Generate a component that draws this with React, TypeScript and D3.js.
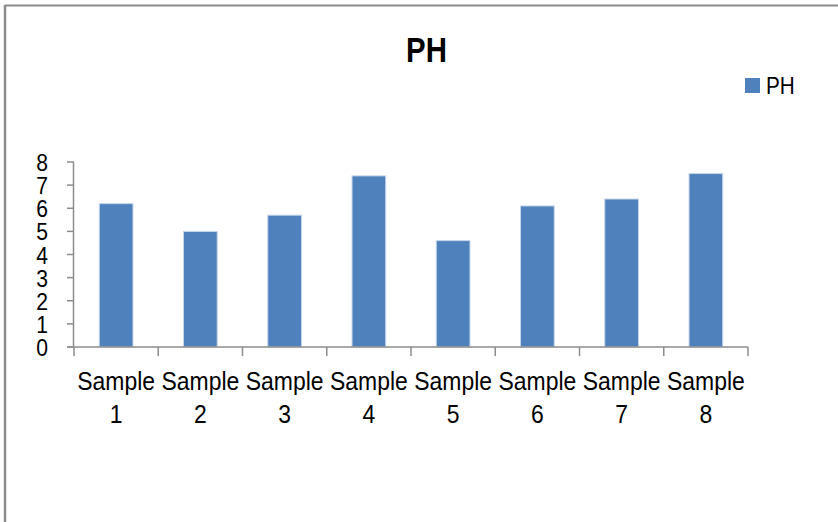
import React from "react";
import * as d3 from "d3";

const categories = ["Sample 1", "Sample 2", "Sample 3", "Sample 4", "Sample 5", "Sample 6", "Sample 7", "Sample 8"];
const phValues = [6.2, 5.0, 5.7, 7.4, 4.6, 6.1, 6.4, 7.5];
const yTicks = [0, 1, 2, 3, 4, 5, 6, 7, 8];
const seriesName = "PH";
const chartTitle = "PH";

const W = 838;
const H = 522;
const FONT = "'Liberation Sans', Arial, sans-serif";

type STProps = {
  x: number;
  y: number;
  sx: number;
  size: number;
  anchor?: "start" | "middle" | "end";
  bold?: boolean;
  children: React.ReactNode;
};

function SText({ x, y, sx, size, anchor = "start", bold = false, children }: STProps) {
  return (
    <text
      transform={`translate(${x},${y}) scale(${sx},1)`}
      textAnchor={anchor}
      fontFamily={FONT}
      fontSize={size}
      fontWeight={bold ? "bold" : "normal"}
      fill="#000"
    >
      {children}
    </text>
  );
}

export default function App() {
  const left = 74;
  const right = 748;
  const top = 162;
  const bottom = 347;

  const x = d3.scaleBand<string>().domain(categories).range([left, right]).paddingInner(0.6).paddingOuter(0.3);
  const xb = d3.scaleBand<string>().domain(categories).range([left, right]).padding(0);
  const y = d3.scaleLinear().domain([0, 8]).range([bottom, top]);

  const boundaries = d3.range(categories.length + 1).map((i) => left + i * xb.step());

  return (
    <svg width={W} height={H} style={{ position: "absolute", left: 0, top: 0, background: "#fff" }}>
      <rect x={0} y={0} width={W} height={H} fill="#fff" />
      {/* outer frame (top & left visible) */}
      <line x1={5} y1={5.5} x2={W} y2={5.5} stroke="#8c8c8c" strokeWidth={2} />
      <line x1={5} y1={5} x2={5} y2={H} stroke="#8c8c8c" strokeWidth={2.5} />

      <SText x={426.5} y={62} sx={0.84} size={35} anchor="middle" bold>
        {chartTitle}
      </SText>

      {/* legend */}
      <rect x={745} y={78} width={15} height={15} fill="#4F81BD" />
      <SText x={766} y={94} sx={0.9} size={23}>
        {seriesName}
      </SText>

      {/* bars */}
      {categories.map((c, i) => (
        <rect
          key={c}
          x={x(c)}
          y={y(phValues[i])}
          width={x.bandwidth()}
          height={y(0) - y(phValues[i])}
          fill="#4F81BD"
          stroke="#c6d6ea"
          strokeWidth={1}
        />
      ))}

      {/* y axis */}
      <line x1={left - 0.5} y1={y(8)} x2={left - 0.5} y2={bottom} stroke="#8c8c8c" strokeWidth={1.5} />
      {yTicks.map((t) => (
        <g key={t}>
          <line x1={left - 7} x2={left} y1={y(t)} y2={y(t)} stroke="#8c8c8c" strokeWidth={1.5} />
          <SText x={48} y={y(t) + 9} sx={0.88} size={24} anchor="end">
            {t}
          </SText>
        </g>
      ))}

      {/* x axis */}
      <line x1={left - 7} x2={right} y1={bottom} y2={bottom} stroke="#8c8c8c" strokeWidth={1.5} />
      {boundaries.map((bx, i) => (
        <line key={i} x1={bx} x2={bx} y1={bottom} y2={bottom + 9} stroke="#8c8c8c" strokeWidth={1.5} />
      ))}
      {categories.map((c) => {
        const cx = (xb(c) as number) + xb.bandwidth() / 2;
        const parts = c.split(" ");
        return (
          <g key={c}>
            <SText x={cx} y={390} sx={0.9} size={25.5} anchor="middle">
              {parts[0]}
            </SText>
            <SText x={cx} y={423} sx={0.9} size={25.5} anchor="middle">
              {parts[1]}
            </SText>
          </g>
        );
      })}
    </svg>
  );
}
